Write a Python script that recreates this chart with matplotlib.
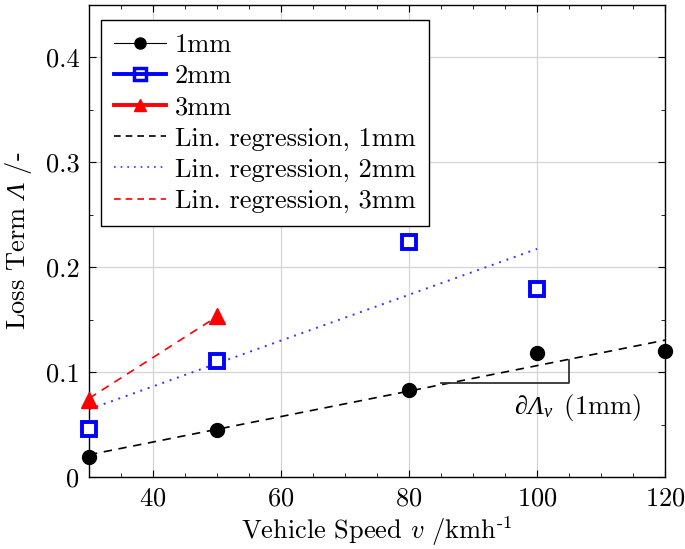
import matplotlib

matplotlib.use("Agg")
import matplotlib.pyplot as plt
from matplotlib.lines import Line2D

# measured values
speed_1mm = [30, 50, 80, 100, 120]
loss_1mm = [0.019, 0.0446, 0.0826, 0.1187, 0.1206]
speed_2mm = [30, 50, 80, 100]
loss_2mm = [0.0456, 0.111, 0.224, 0.1795]
speed_3mm = [30, 50]
loss_3mm = [0.073, 0.154]

# regression line end points
reg_x_1mm = [30, 120]
reg_y_1mm = [0.0213, 0.1305]
reg_x_2mm = [30, 100]
reg_y_2mm = [0.0646, 0.2175]
reg_x_3mm = [30, 50]
reg_y_3mm = [0.075, 0.153]

# slope triangle
tri_x = [85, 105, 105]
tri_y = [0.0893, 0.0893, 0.1115]

FS = 19

plt.rcParams.update({
    "font.family": "serif",
    "font.serif": ["cmr10", "DejaVu Serif"],
    "mathtext.fontset": "cm",
    # "custom" set only used for the italic capital Lambda
    "mathtext.rm": "Liberation Serif:italic",
    "mathtext.it": "Liberation Serif:italic",
    "axes.formatter.use_mathtext": True,
    "font.size": FS,
    "xtick.direction": "in",
    "ytick.direction": "in",
    "xtick.top": True,
    "ytick.right": True,
})

fig = plt.figure(figsize=(6.85, 5.49), dpi=100)
ax = fig.add_axes([0.130, 0.131, 0.841, 0.860])

ax.plot(reg_x_1mm, reg_y_1mm, color="black", ls=(0, (5, 4)), lw=1.2)
ax.plot(reg_x_2mm, reg_y_2mm, color="#3333ff", ls=(0, (1, 3)), lw=1.4)
ax.plot(reg_x_3mm, reg_y_3mm, color="red", ls=(0, (5, 4)), lw=1.2)

ax.plot(tri_x, tri_y, color="#333333", lw=1.3)
ax.text(106.3, 0.0665, r"$\partial\Lambda_v\,$ (1mm)", ha="center", va="center",
        fontsize=FS, math_fontfamily="custom")

ax.plot(speed_1mm, loss_1mm, ls="none", marker="o", ms=10, color="black", clip_on=False, zorder=5)
ax.plot(speed_2mm, loss_2mm, ls="none", marker="s", ms=10, mfc="white", mec="blue", mew=2.8,
        clip_on=False, zorder=5)
ax.plot(speed_3mm, loss_3mm, ls="none", marker="^", ms=12, color="red", clip_on=False, zorder=5)

ax.set_xlim(30, 120)
ax.set_ylim(0, 0.45)
ax.set_xticks([40, 60, 80, 100, 120])
ax.set_xticks(range(30, 121, 5), minor=True)
ax.set_yticks([0, 0.1, 0.2, 0.3, 0.4])
ax.set_yticks([0.05, 0.15, 0.25, 0.35, 0.45], minor=True)
ax.set_yticklabels(["0", "0.1", "0.2", "0.3", "0.4"])
ax.grid(True, which="major", color="#d5d5d5", lw=0.9)
ax.tick_params(which="major", length=5, labelsize=FS, pad=7)
ax.tick_params(which="minor", length=3)
for s in ax.spines.values():
    s.set_linewidth(1.0)

ax.set_xlabel(r"Vehicle Speed $v$ /kmh$^{\text{-1}}$", fontsize=FS, labelpad=3)
ax.set_ylabel(r"Loss Term $\Lambda$ /-", fontsize=FS, labelpad=8, math_fontfamily="custom")

handles = [
    Line2D([], [], color="black", lw=0.8, marker="o", ms=8),
    Line2D([], [], color="blue", lw=2.8, marker="s", ms=8, mfc="none", mew=2.5),
    Line2D([], [], color="red", lw=2.8, marker="^", ms=9),
    Line2D([], [], color="black", lw=1.2, ls=(0, (4, 3))),
    Line2D([], [], color="#3333ff", lw=1.2, ls=(0, (1, 3))),
    Line2D([], [], color="red", lw=1.2, ls=(0, (4, 3))),
]
labels = ["1mm", "2mm", "3mm", "Lin. regression, 1mm", "Lin. regression, 2mm",
          "Lin. regression, 3mm"]
leg = ax.legend(handles, labels, loc="upper left", bbox_to_anchor=(0.021, 0.968),
                borderaxespad=0, fancybox=False, framealpha=1, edgecolor="black",
                fontsize=FS, handlelength=1.95, labelspacing=0.28, borderpad=0.5,
                handletextpad=0.35)
leg.get_frame().set_linewidth(1.0)

fig.savefig("out.png", dpi=100)
